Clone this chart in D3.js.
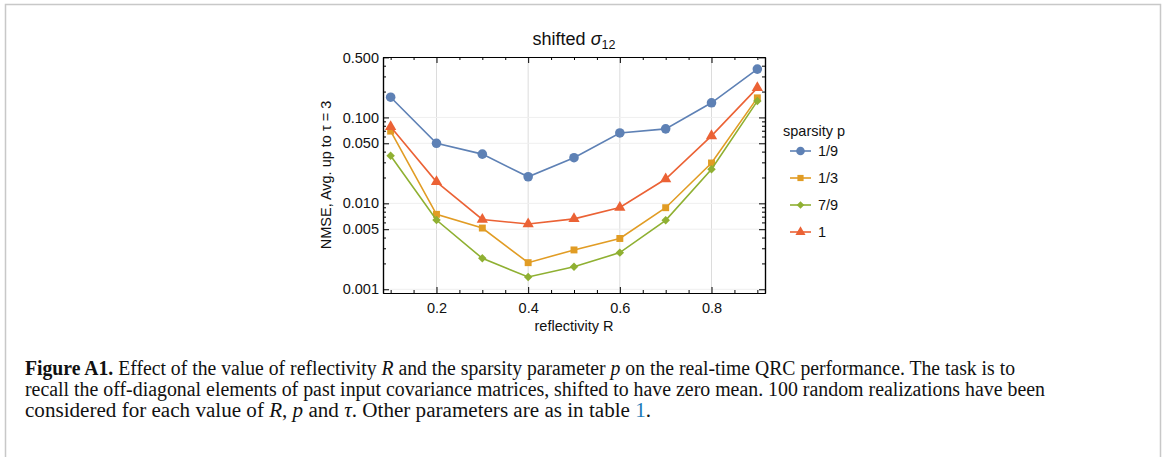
<!DOCTYPE html>
<html>
<head>
<meta charset="utf-8">
<script src="https://cdn.jsdelivr.net/npm/d3@7"></script>
<style>
    body { margin: 0; background: #fff; }
    #chart { width: 1165px; height: 457px; }
    .tick text { font-family: "Liberation Sans", Arial, sans-serif; }
</style>
</head>
<body>
<div id="chart"></div>
<script>
// data
const reflectivity = [0.1, 0.2, 0.3, 0.4, 0.5, 0.6, 0.7, 0.8, 0.9];
const sparsityLabels = ["1/9", "1/3", "7/9", "1"];
const nmse_1_9 = [0.172, 0.050, 0.0374, 0.0204, 0.034, 0.066, 0.0736, 0.148, 0.365];
const nmse_1_3 = [0.0693, 0.00745, 0.00516, 0.00204, 0.00287, 0.0039, 0.0089, 0.0295, 0.169];
const nmse_7_9 = [0.0358, 0.0064, 0.00229, 0.00139, 0.00183, 0.00267, 0.00634, 0.025, 0.155];
const nmse_1 = [0.078, 0.0178, 0.0065, 0.00574, 0.0066, 0.00897, 0.0192, 0.061, 0.221];
const yTickValues = [0.001, 0.005, 0.01, 0.05, 0.1, 0.5];
const xTickValues = [0.2, 0.4, 0.6, 0.8];

const seriesList = [
    {label: sparsityLabels[0], values: nmse_1_9, color: "#5e81b5", symbol: d3.symbolCircle, size: 72, rot: 0},
    {label: sparsityLabels[1], values: nmse_1_3, color: "#e19c24", symbol: d3.symbolSquare, size: 48, rot: 0},
    {label: sparsityLabels[2], values: nmse_7_9, color: "#8fb032", symbol: d3.symbolSquare, size: 36, rot: 45},
    {label: sparsityLabels[3], values: nmse_1, color: "#eb6235", symbol: d3.symbolTriangle, size: 55, rot: 0}
];

const width = 1165;
const height = 457;
const margin = {top: 57, left: 383, right: 400, bottom: 164};

const svg = d3.select("#chart")
    .append("svg")
    .attr("width", width)
    .attr("height", height);

// page frame
svg.append("path")
    .attr("d", `M5.5,${height} V4.5 H1160.5 V${height}`)
    .attr("fill", "none")
    .attr("stroke", "#c8c8c8")
    .attr("stroke-width", 1.5);

/*
SCALES
*/
const xScale = d3.scaleLinear()
    .domain([0.0833, 0.9167])
    .range([margin.left, width - margin.right]);

const yScale = d3.scaleLog()
    .domain([0.000905, 0.505])
    .range([height - margin.bottom, margin.top]);

const plotL = margin.left, plotR = width - margin.right;
const plotT = margin.top, plotB = height - margin.bottom;

/*
GRID
*/
svg.append("g").selectAll("line")
    .data(xTickValues)
    .join("line")
    .attr("x1", d => xScale(d)).attr("x2", d => xScale(d))
    .attr("y1", plotT).attr("y2", plotB)
    .attr("stroke", "#dcdcdc").attr("stroke-width", 1);

svg.append("g").selectAll("line")
    .data(yTickValues)
    .join("line")
    .attr("x1", plotL).attr("x2", plotR)
    .attr("y1", d => yScale(d)).attr("y2", d => yScale(d))
    .attr("stroke", "#efefef").attr("stroke-width", 1);

/*
AXES (frame with inward ticks)
*/
const xMinor = d3.range(0.1, 0.91, 0.05).filter(v => !xTickValues.some(t => Math.abs(t - v) < 1e-6));
const yMinor = [];
[0.001, 0.01, 0.1].forEach(dec => {
    for (let k = 1; k <= 9; k++) {
        const v = dec * k;
        if (v <= 0.5 && !yTickValues.some(t => Math.abs(t - v) < 1e-9)) yMinor.push(v);
    }
});

function styleAxis(g) {
    g.select(".domain").attr("stroke", "#000").attr("stroke-width", 1.2);
    g.selectAll(".tick line").attr("stroke", "#000").attr("stroke-width", 1);
    g.selectAll(".tick text").attr("fill", "#111").style("font-size", "14.5px");
}

svg.append("g")
    .attr("transform", `translate(0,${plotB})`)
    .call(d3.axisBottom(xScale).tickValues(xTickValues).tickSizeInner(-6).tickSizeOuter(0).tickPadding(10).tickFormat(d3.format(".1f")))
    .call(styleAxis);
svg.append("g")
    .attr("transform", `translate(0,${plotB})`)
    .call(d3.axisBottom(xScale).tickValues(xMinor).tickSizeInner(-3).tickSizeOuter(0).tickFormat(""))
    .call(styleAxis);
svg.append("g")
    .attr("transform", `translate(0,${plotT})`)
    .call(d3.axisTop(xScale).tickValues(xTickValues).tickSizeInner(-6).tickSizeOuter(0).tickFormat(""))
    .call(styleAxis);
svg.append("g")
    .attr("transform", `translate(0,${plotT})`)
    .call(d3.axisTop(xScale).tickValues(xMinor).tickSizeInner(-3).tickSizeOuter(0).tickFormat(""))
    .call(styleAxis);

svg.append("g")
    .attr("transform", `translate(${plotL},0)`)
    .call(d3.axisLeft(yScale).tickValues(yTickValues).tickSizeInner(-6).tickSizeOuter(0).tickPadding(4).tickFormat(d3.format(".3f")))
    .call(styleAxis);
svg.append("g")
    .attr("transform", `translate(${plotL},0)`)
    .call(d3.axisLeft(yScale).tickValues(yMinor).tickSizeInner(-3).tickSizeOuter(0).tickFormat(""))
    .call(styleAxis);
svg.append("g")
    .attr("transform", `translate(${plotR},0)`)
    .call(d3.axisRight(yScale).tickValues(yTickValues).tickSizeInner(-6).tickSizeOuter(0).tickFormat(""))
    .call(styleAxis);
svg.append("g")
    .attr("transform", `translate(${plotR},0)`)
    .call(d3.axisRight(yScale).tickValues(yMinor).tickSizeInner(-3).tickSizeOuter(0).tickFormat(""))
    .call(styleAxis);

/*
LINES + MARKERS
*/
const line = d3.line()
    .x((d, i) => xScale(reflectivity[i]))
    .y(d => yScale(d));

seriesList.forEach(function(s) {
    svg.append("path")
        .datum(s.values)
        .attr("d", line)
        .attr("fill", "none")
        .attr("stroke", s.color)
        .attr("stroke-width", 1.6);

    svg.append("g").selectAll("path")
        .data(s.values)
        .join("path")
        .attr("transform", (d, i) => `translate(${xScale(reflectivity[i])},${yScale(d)}) rotate(${s.rot})`)
        .attr("d", d3.symbol().type(s.symbol).size(s.size))
        .attr("fill", s.color);
});

/*
LABELS
*/
const title = svg.append("text")
    .attr("x", (plotL + plotR) / 2)
    .attr("y", 45)
    .attr("text-anchor", "middle")
    .style("font-family", "Liberation Sans, Arial, sans-serif")
    .style("font-size", "18px")
    .attr("fill", "#111");
title.append("tspan").text("shifted ");
title.append("tspan").style("font-style", "italic").text("σ");
title.append("tspan").attr("dy", 4).style("font-size", "12.5px").text("12");

svg.append("text")
    .attr("x", (plotL + plotR) / 2)
    .attr("y", 331)
    .attr("text-anchor", "middle")
    .style("font-family", "Liberation Sans, Arial, sans-serif")
    .style("font-size", "14.5px")
    .attr("fill", "#111")
    .text("reflectivity R");

svg.append("text")
    .attr("transform", `translate(331,${(plotT + plotB) / 2}) rotate(-90)`)
    .attr("text-anchor", "middle")
    .style("font-family", "Liberation Sans, Arial, sans-serif")
    .style("font-size", "14.5px")
    .attr("fill", "#111")
    .text("NMSE, Avg. up to τ = 3");

/*
LEGEND
*/
const legX = 790;
const legY = 151;
const legStep = 27;

svg.append("text")
    .attr("x", 783)
    .attr("y", 136)
    .style("font-family", "Liberation Sans, Arial, sans-serif")
    .style("font-size", "14.5px")
    .attr("fill", "#111")
    .text("sparsity p");

seriesList.forEach(function(s, i) {
    const yy = legY + i * legStep;
    svg.append("line")
        .attr("x1", legX).attr("x2", legX + 21)
        .attr("y1", yy).attr("y2", yy)
        .attr("stroke", s.color).attr("stroke-width", 1.6);
    svg.append("path")
        .attr("transform", `translate(${legX + 10.5},${yy}) rotate(${s.rot})`)
        .attr("d", d3.symbol().type(s.symbol).size(s.size * 0.8))
        .attr("fill", s.color);
    svg.append("text")
        .attr("x", legX + 28)
        .attr("y", yy + 5)
        .style("font-family", "Liberation Sans, Arial, sans-serif")
        .style("font-size", "14.5px")
        .attr("fill", "#111")
        .text(s.label);
});

/*
CAPTION
*/
const cap = svg.append("g")
    .style("font-family", "Liberation Serif, 'DejaVu Serif', serif")
    .style("font-size", "20px")
    .attr("fill", "#111");

const l1 = cap.append("text").attr("x", 25).attr("y", 375).attr("textLength", 990).attr("lengthAdjust", "spacingAndGlyphs");
l1.append("tspan").style("font-weight", "bold").text("Figure A1.");
l1.append("tspan").text(" Effect of the value of reflectivity ");
l1.append("tspan").style("font-style", "italic").text("R");
l1.append("tspan").text(" and the sparsity parameter ");
l1.append("tspan").style("font-style", "italic").text("p");
l1.append("tspan").text(" on the real-time QRC performance. The task is to");

cap.append("text").attr("x", 25).attr("y", 396).attr("textLength", 1020).attr("lengthAdjust", "spacingAndGlyphs")
    .text("recall the off-diagonal elements of past input covariance matrices, shifted to have zero mean. 100 random realizations have been");

const l3 = cap.append("text").attr("x", 25).attr("y", 417).attr("textLength", 626).attr("lengthAdjust", "spacingAndGlyphs");
l3.append("tspan").text("considered for each value of ");
l3.append("tspan").style("font-style", "italic").text("R");
l3.append("tspan").text(", ");
l3.append("tspan").style("font-style", "italic").text("p");
l3.append("tspan").text(" and ");
l3.append("tspan").style("font-style", "italic").text("τ");
l3.append("tspan").text(". Other parameters are as in table ");
l3.append("tspan").attr("fill", "#1a7ab8").text("1");
l3.append("tspan").text(".");
</script>
</body>
</html>
